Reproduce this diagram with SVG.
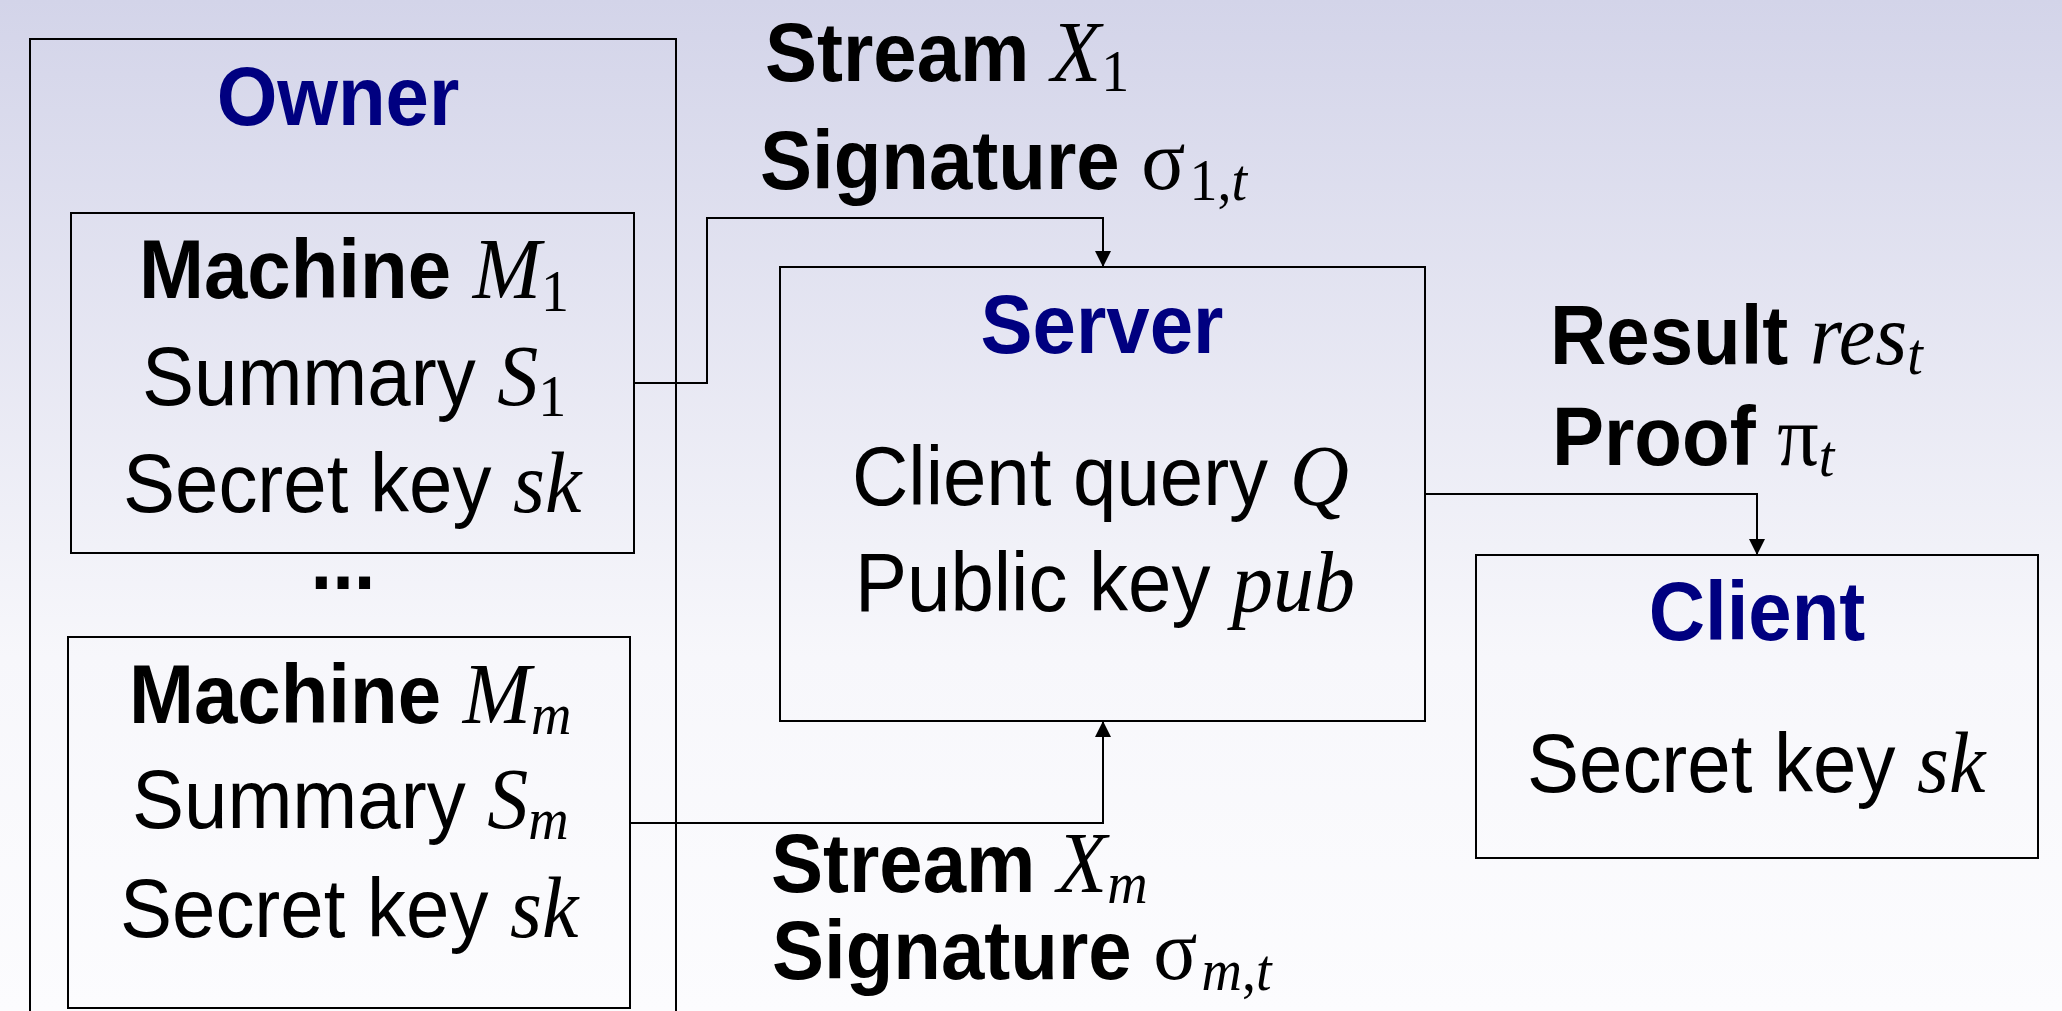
<svg xmlns="http://www.w3.org/2000/svg" width="2062" height="1011" viewBox="0 0 2062 1011">
<defs>
<linearGradient id="bg" x1="0" y1="0" x2="0" y2="1">
<stop offset="0" stop-color="#d3d4e9"/>
<stop offset="0.65" stop-color="#f7f7fb"/>
<stop offset="1" stop-color="#fcfcfe"/>
</linearGradient>
<marker id="arr" markerUnits="userSpaceOnUse" markerWidth="16" markerHeight="16" refX="16" refY="8" orient="auto">
<path d="M0,0 L16,8 L0,16 z" fill="#000"/>
</marker>
<style>
.box{fill:none;stroke:#000;stroke-width:2}
.t{font-family:"Liberation Sans",Arial,sans-serif;font-size:78px;fill:#000}
.b{font-weight:bold}
.title{font-family:"Liberation Sans",Arial,sans-serif;font-size:78px;font-weight:bold;fill:#000080}
.m{font-family:"Liberation Serif","Times New Roman",serif;font-style:italic;font-weight:normal;font-size:82px}
.g{font-family:"Liberation Serif","Times New Roman",serif;font-style:normal;font-weight:normal;font-size:82px}
.s{font-family:"Liberation Serif","Times New Roman",serif;font-style:normal;font-weight:normal;font-size:56px}
.si{font-family:"Liberation Serif","Times New Roman",serif;font-style:italic;font-weight:normal;font-size:56px}
.conn{fill:none;stroke:#000;stroke-width:2}
</style>
</defs>
<rect x="0" y="0" width="2062" height="1011" fill="url(#bg)"/>

<g id="owner">
<rect class="box" x="30" y="39" width="646" height="1000"/>
<text class="title" x="338" y="125" text-anchor="middle" transform="matrix(1,0,0,1.06,0,-7.5)">Owner</text>
<text class="t b" x="343" y="589" text-anchor="middle" transform="matrix(1,0,0,1.06,0,-35.34)">...</text>
</g>

<g id="machine1">
<rect class="box" x="71" y="213" width="563" height="340"/>
<text class="t b" x="139" y="298" transform="matrix(1,0,0,1.06,0,-17.88)">Machine <tspan class="m">M</tspan><tspan class="s" dy="12">1</tspan></text>
<text class="t" x="142" y="405" transform="matrix(1,0,0,1.06,0,-24.3)">Summary <tspan class="m">S</tspan><tspan class="s" dy="10">1</tspan></text>
<text class="t" x="123" y="512" transform="matrix(1,0,0,1.06,0,-30.72)">Secret key <tspan class="m">sk</tspan></text>
</g>

<g id="machinem">
<rect class="box" x="68" y="637" width="562" height="371"/>
<text class="t b" x="129" y="723" transform="matrix(1,0,0,1.06,0,-43.38)">Machine <tspan class="m">M</tspan><tspan class="si" dy="10">m</tspan></text>
<text class="t" x="132" y="828" transform="matrix(1,0,0,1.06,0,-49.68)">Summary <tspan class="m">S</tspan><tspan class="si" dy="10">m</tspan></text>
<text class="t" x="120" y="937" transform="matrix(1,0,0,1.06,0,-56.22)">Secret key <tspan class="m">sk</tspan></text>
</g>

<g id="server">
<rect class="box" x="780" y="267" width="645" height="454"/>
<text class="title" x="1102" y="353" text-anchor="middle" transform="matrix(1,0,0,1.06,0,-21.18)">Server</text>
<text class="t" x="852" y="505" transform="matrix(1,0,0,1.06,0,-30.3)">Client query <tspan class="m">Q</tspan></text>
<text class="t" x="855" y="611" transform="matrix(1,0,0,1.06,0,-36.66)">Public key <tspan class="m">pub</tspan></text>
</g>

<g id="client">
<rect class="box" x="1476" y="555" width="562" height="303"/>
<text class="title" x="1757" y="640" text-anchor="middle" transform="matrix(1,0,0,1.06,0,-38.4)">Client</text>
<text class="t" x="1527" y="792" transform="matrix(1,0,0,1.06,0,-47.52)">Secret key <tspan class="m">sk</tspan></text>
</g>

<g id="connectors">
<path class="conn" d="M634,383 H707 V218 H1103 V267" marker-end="url(#arr)"/>
<path class="conn" d="M1425,494 H1757 V555" marker-end="url(#arr)"/>
<path class="conn" d="M630,823 H1103 V721" marker-end="url(#arr)"/>
</g>

<g id="labels">
<text class="t b" x="765" y="81" transform="matrix(1,0,0,1.06,0,-4.86)">Stream <tspan class="m">X</tspan><tspan class="s" dy="9">1</tspan></text>
<text class="t b" x="760" y="189" transform="matrix(1,0,0,1.06,0,-11.34)">Signature <tspan class="g">σ</tspan><tspan class="s" dy="10" dx="4">1,</tspan><tspan class="si">t</tspan></text>
<text class="t b" x="1550" y="364" transform="matrix(1,0,0,1.06,0,-21.84)">Result <tspan class="m">res</tspan><tspan class="si" dy="9">t</tspan></text>
<text class="t b" x="1552" y="465" transform="matrix(1,0,0,1.06,0,-27.9)">Proof <tspan class="g">π</tspan><tspan class="si" dy="10">t</tspan></text>
<text class="t b" x="771" y="892" transform="matrix(1,0,0,1.06,0,-53.52)">Stream <tspan class="m">X</tspan><tspan class="si" dy="10">m</tspan></text>
<text class="t b" x="772" y="979" transform="matrix(1,0,0,1.06,0,-58.74)">Signature <tspan class="g">σ</tspan><tspan class="si" dy="10" dx="4">m</tspan><tspan class="s">,</tspan><tspan class="si">t</tspan></text>
</g>
</svg>
